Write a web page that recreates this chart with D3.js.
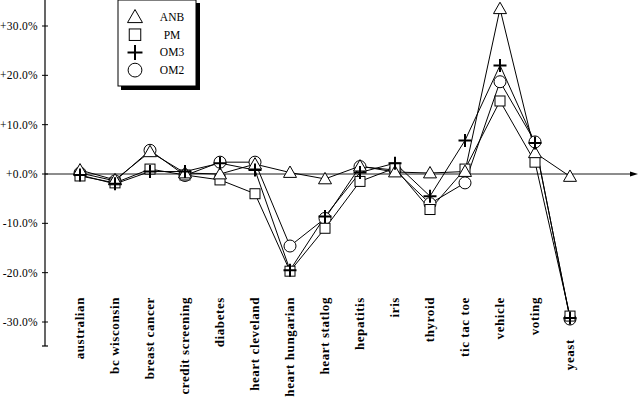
<!DOCTYPE html>
<html><head><meta charset="utf-8">
<script src="https://cdn.jsdelivr.net/npm/d3@7"></script>
<style>body{margin:0;background:#fff}svg{display:block}</style>
</head><body>
<script>
const categories = ["australian","bc wisconsin","breast cancer","credit screening","diabetes","heart cleveland","heart hungarian","heart statlog","hepatitis","iris","thyroid","tic tac toe","vehicle","voting","yeast"];
const seriesNames = ["ANB","PM","OM3","OM2"];
const anb = [0.8,-1.2,4.5,0.2,0.0,2.0,0.3,-1.0,1.6,0.4,0.2,0.5,33.5,4.3,-0.5];
const pm  = [-0.4,-1.8,1.0,-0.2,-1.2,-4.0,-19.7,-11.0,-1.5,1.2,-7.2,1.0,14.8,2.4,-28.8];
const om3 = [-0.2,-2.0,0.5,0.5,2.2,0.8,-19.5,-8.6,0.3,2.2,-4.5,6.8,22.0,6.3,-29.2];
const om2 = [0.2,-1.4,4.8,-0.3,2.4,2.4,-14.6,-9.0,1.5,0.8,-6.0,-1.8,18.7,6.5,-29.4];
const tickValues = [30,20,10,0,-10,-20,-30];
const tickLabels = ["+30.0%","+20.0%","+10.0%","+0.0%","-10.0%","-20.0%","-30.0%"];

const data = [anb, pm, om3, om2];
const W = 640, H = 397;
const svg = d3.select("body").append("svg").attr("width", W).attr("height", H);

const x = d3.scalePoint().domain(categories).range([80, 570]);
const y = d3.scaleLinear().domain([-30, 30]).range([322, 26]);

// vertical axis
svg.append("line").attr("x1",45).attr("x2",45).attr("y1",0).attr("y2",346).attr("stroke","#000").attr("stroke-width",1.2);
svg.append("line").attr("x1",42).attr("x2",48).attr("y1",346).attr("y2",346).attr("stroke","#000").attr("stroke-width",1.2);
tickValues.forEach((v,i)=>{
  svg.append("line").attr("x1",42).attr("x2",48).attr("y1",y(v)).attr("y2",y(v)).attr("stroke","#000");
  svg.append("text").attr("x",38).attr("y",y(v)).attr("dy","0.35em").attr("text-anchor","end")
    .attr("font-family","Liberation Serif, serif").attr("font-size",11.5).attr("letter-spacing",0.3).text(tickLabels[i]);
});
// zero line with arrow
svg.append("line").attr("x1",45).attr("x2",634).attr("y1",y(0)).attr("y2",y(0)).attr("stroke","#000").attr("stroke-width",0.9);
svg.append("path").attr("d",`M${638},${y(0)} L${630},${y(0)-2.5} L${630},${y(0)+2.5} Z`).attr("fill","#000");

// category labels
categories.forEach((c,i)=>{
  const minV = d3.min(data, s=>s[i]);
  const endY = Math.max(297, y(minV)+20);
  svg.append("text").attr("transform",`translate(${x(c)+4},${endY}) rotate(-90)`)
    .attr("text-anchor","end").attr("font-family","Liberation Serif, serif").attr("font-weight","bold")
    .attr("font-size",13).attr("letter-spacing",0.6).text(c);
});

// lines
const line = d3.line().x((d,i)=>x(categories[i])).y(d=>y(d));
data.forEach(s=>{
  svg.append("path").attr("d",line(s)).attr("fill","none").attr("stroke","#000").attr("stroke-width",1);
});

function marker(g, type, cx, cy, big){
  const k = big ? 1.15 : 1;
  if(type===0){
    const s=6.5*k;
    g.append("path").attr("d",`M${cx},${cy-s} L${cx+s},${cy+s*0.75} L${cx-s},${cy+s*0.75} Z`).attr("fill","#fff").attr("stroke","#000").attr("stroke-width",1);
  } else if(type===1){
    const s=5*k;
    g.append("rect").attr("x",cx-s).attr("y",cy-s).attr("width",2*s).attr("height",2*s).attr("fill","#fff").attr("stroke","#000").attr("stroke-width",1);
  } else if(type===2){
    const s=6.5*k;
    g.append("path").attr("d",`M${cx-s},${cy} L${cx+s},${cy} M${cx},${cy-s} L${cx},${cy+s}`).attr("stroke","#000").attr("stroke-width",2);
  } else {
    g.append("circle").attr("cx",cx).attr("cy",cy).attr("r",6*k).attr("fill","#fff").attr("stroke","#000").attr("stroke-width",1);
  }
}
const mg = svg.append("g");
[3,1,0,2].forEach(t=>{
  data[t].forEach((v,i)=>marker(mg,t,x(categories[i]),y(v),false));
});

// legend
const lg = svg.append("g");
lg.append("rect").attr("x",121).attr("y",3).attr("width",79).attr("height",87).attr("fill","#000");
lg.append("rect").attr("x",118).attr("y",0).attr("width",78).attr("height",86).attr("fill","#fff").attr("stroke","#000").attr("stroke-width",1);
seriesNames.forEach((n,i)=>{
  const ly = 17 + i*17.7;
  marker(lg,i,135,ly,true);
  lg.append("text").attr("x",172).attr("y",ly).attr("dy","0.35em").attr("text-anchor","middle")
    .attr("font-family","Liberation Serif, serif").attr("font-size",11.5).text(n);
});
</script>
</body></html>
